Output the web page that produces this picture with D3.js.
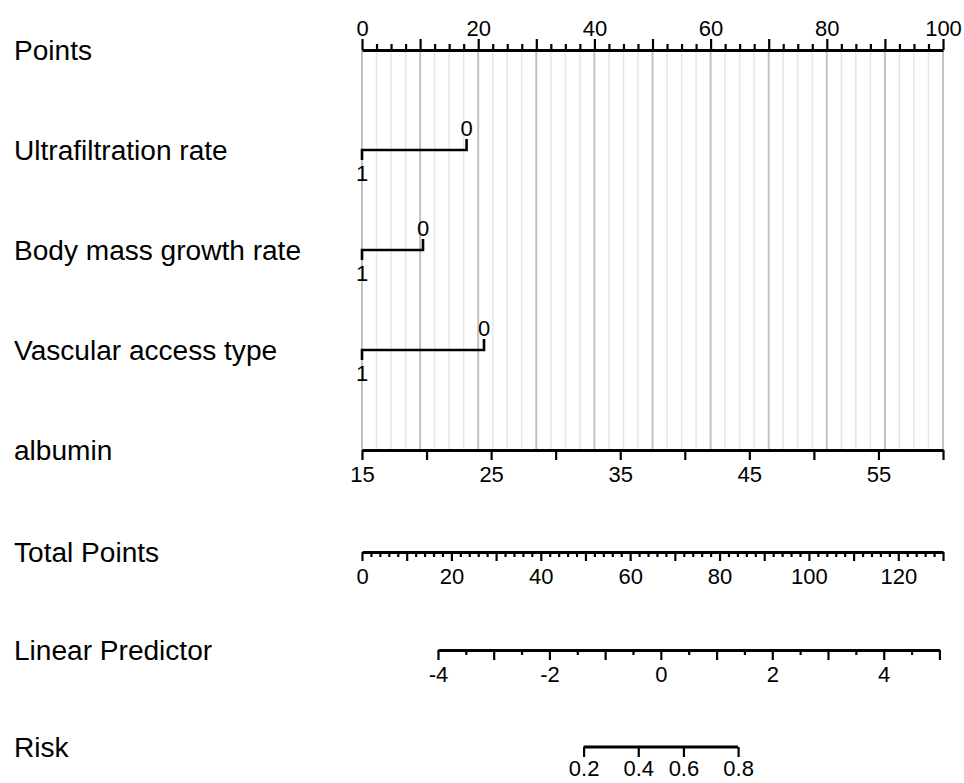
<!DOCTYPE html>
<html>
<head>
<meta charset="utf-8">
<script src="https://cdn.jsdelivr.net/npm/d3@7"></script>
<style>
    body { margin: 0; background: #fff; }
    svg text { font-family: "Liberation Sans", Arial, sans-serif; fill: #000; }
</style>
</head>
<body>
<div id="nomogram"></div>
<script>

// row labels, top to bottom
let rowLabels = ["Points", "Ultrafiltration rate", "Body mass growth rate", "Vascular access type",
    "albumin", "Total Points", "Linear Predictor", "Risk"];

// categorical predictors: points given to level "0" (level "1" sits at 0 points)
let catVars = ["Ultrafiltration rate", "Body mass growth rate", "Vascular access type"];
let catPointsLevel0 = [18, 10.5, 21];

// albumin: value range mapped onto 0..100 points
let albuminDomain = [15, 60];
let albuminTicks = [15, 20, 25, 30, 35, 40, 45, 50, 55, 60];
let albuminLabels = [15, 25, 35, 45, 55];

// total points axis
let totalDomain = [0, 130];

// linear predictor and the total points where its ends fall
let lpDomain = [-4, 5];
let lpAtTotal = [17.0, 129.2];
let lpLabels = [-4, -2, 0, 2, 4];

// risk ticks
let riskTicks = [0.2, 0.4, 0.6, 0.8];

let width = 964, height = 783;
let rowY = [50, 150, 250, 350, 450, 552, 650, 747];
let tickFont = "22px";

let svg = d3.select("#nomogram").append("svg")
    .attr("width", width)
    .attr("height", height);

let x = d3.scaleLinear().domain([0, 100]).range([362, 943]);
let xAlb = d3.scaleLinear().domain(albuminDomain).range(x.range());
let xTot = d3.scaleLinear().domain(totalDomain).range(x.range());
let xLp = d3.scaleLinear().domain(lpDomain).range(lpAtTotal.map(xTot));
let logit = p => Math.log(p / (1 - p));

// grid lines behind the predictor rows
let gridVals = d3.range(0, 100.01, 2.5);
svg.append("g").attr("class", "grid")
    .selectAll("line")
    .data(gridVals)
    .enter().append("line")
    .attr("x1", d => x(d)).attr("x2", d => x(d))
    .attr("y1", rowY[0]).attr("y2", rowY[4])
    .attr("stroke", d => d % 10 === 0 ? "#c2c2c2" : "#e6e6e6")
    .attr("stroke-width", d => d % 10 === 0 ? 2 : 1.5);

// row labels on the left
svg.append("g").selectAll("text")
    .data(rowLabels)
    .enter().append("text")
    .attr("transform", (d, i) => `translate(14,${rowY[i] + 10}) scale(1.04,1)`)
    .attr("font-size", "27px")
    .text(d => d);

function styleAxis(g) {
    g.select(".domain").attr("stroke", "#000").attr("stroke-width", 3);
    g.selectAll(".tick line").attr("stroke", "#000").attr("stroke-width", 2.2);
    g.selectAll(".tick text")
        .attr("font-size", tickFont)
        .attr("font-family", null);
}

// Points axis (top)
let pointsAxis = svg.append("g")
    .attr("transform", `translate(0,${rowY[0]})`)
    .call(d3.axisTop(x)
        .tickValues(gridVals)
        .tickSize(11)
        .tickSizeOuter(0)
        .tickFormat(d => d % 20 === 0 ? d : ""));
pointsAxis.selectAll(".tick line").attr("y2", d => d % 10 === 0 ? -11 : -6);
styleAxis(pointsAxis);
pointsAxis.selectAll(".tick text").attr("y", -14);

// categorical predictors
catVars.forEach((name, i) => {
    let y = rowY[i + 1];
    let g = svg.append("g").attr("class", "cat");
    let x0 = x(0), x1 = x(catPointsLevel0[i]);
    g.append("path")
        .attr("d", `M${x0},${y + 10}V${y}H${x1}V${y - 11}`)
        .attr("fill", "none")
        .attr("stroke", "#000")
        .attr("stroke-width", 2.6);
    g.append("text")
        .attr("x", x1).attr("y", y - 14)
        .attr("text-anchor", "middle")
        .attr("font-size", tickFont)
        .text("0");
    g.append("text")
        .attr("x", x0).attr("y", y + 31)
        .attr("text-anchor", "middle")
        .attr("font-size", tickFont)
        .text("1");
});

// albumin
let albAxis = svg.append("g")
    .attr("transform", `translate(0,${rowY[4]})`)
    .call(d3.axisBottom(xAlb)
        .tickValues(albuminTicks)
        .tickSize(10)
        .tickSizeOuter(0)
        .tickFormat(d => albuminLabels.includes(d) ? d : ""));
styleAxis(albAxis);
albAxis.selectAll(".tick text").attr("y", 16);

// Total Points
let totAxis = svg.append("g")
    .attr("transform", `translate(0,${rowY[5]})`)
    .call(d3.axisBottom(xTot)
        .tickValues(d3.range(0, 130.01, 2))
        .tickSize(9)
        .tickSizeOuter(0)
        .tickFormat(d => d % 20 === 0 ? d : ""));
totAxis.selectAll(".tick line").attr("y2", d => d % 10 === 0 ? 9 : 5);
styleAxis(totAxis);
totAxis.selectAll(".tick text").attr("y", 16);

// Linear Predictor
let lpAxis = svg.append("g")
    .attr("transform", `translate(0,${rowY[6]})`)
    .call(d3.axisBottom(xLp)
        .tickValues(d3.range(lpDomain[0], lpDomain[1] + 0.01, 0.5))
        .tickSize(10)
        .tickSizeOuter(0)
        .tickFormat(d => lpLabels.includes(d) ? String(d) : ""));
lpAxis.selectAll(".tick line").attr("y2", d => Number.isInteger(d) ? 10 : 5);
styleAxis(lpAxis);
lpAxis.selectAll(".tick text").attr("y", 16);

// Risk: placed on the linear predictor scale through the logit
let fmtRisk = d3.format(".1f");
let riskAxis = svg.append("g")
    .attr("transform", `translate(0,${rowY[7]})`)
    .call(d3.axisBottom(xLp)
        .tickValues(riskTicks.map(logit))
        .tickSize(10)
        .tickSizeOuter(0)
        .tickFormat(d => fmtRisk(1 / (1 + Math.exp(-d)))));
riskAxis.select(".domain")
    .attr("d", `M${xLp(logit(riskTicks[0]))},0H${xLp(logit(riskTicks[riskTicks.length - 1]))}`);
styleAxis(riskAxis);
riskAxis.selectAll(".tick text").attr("y", 13);

</script>
</body>
</html>
